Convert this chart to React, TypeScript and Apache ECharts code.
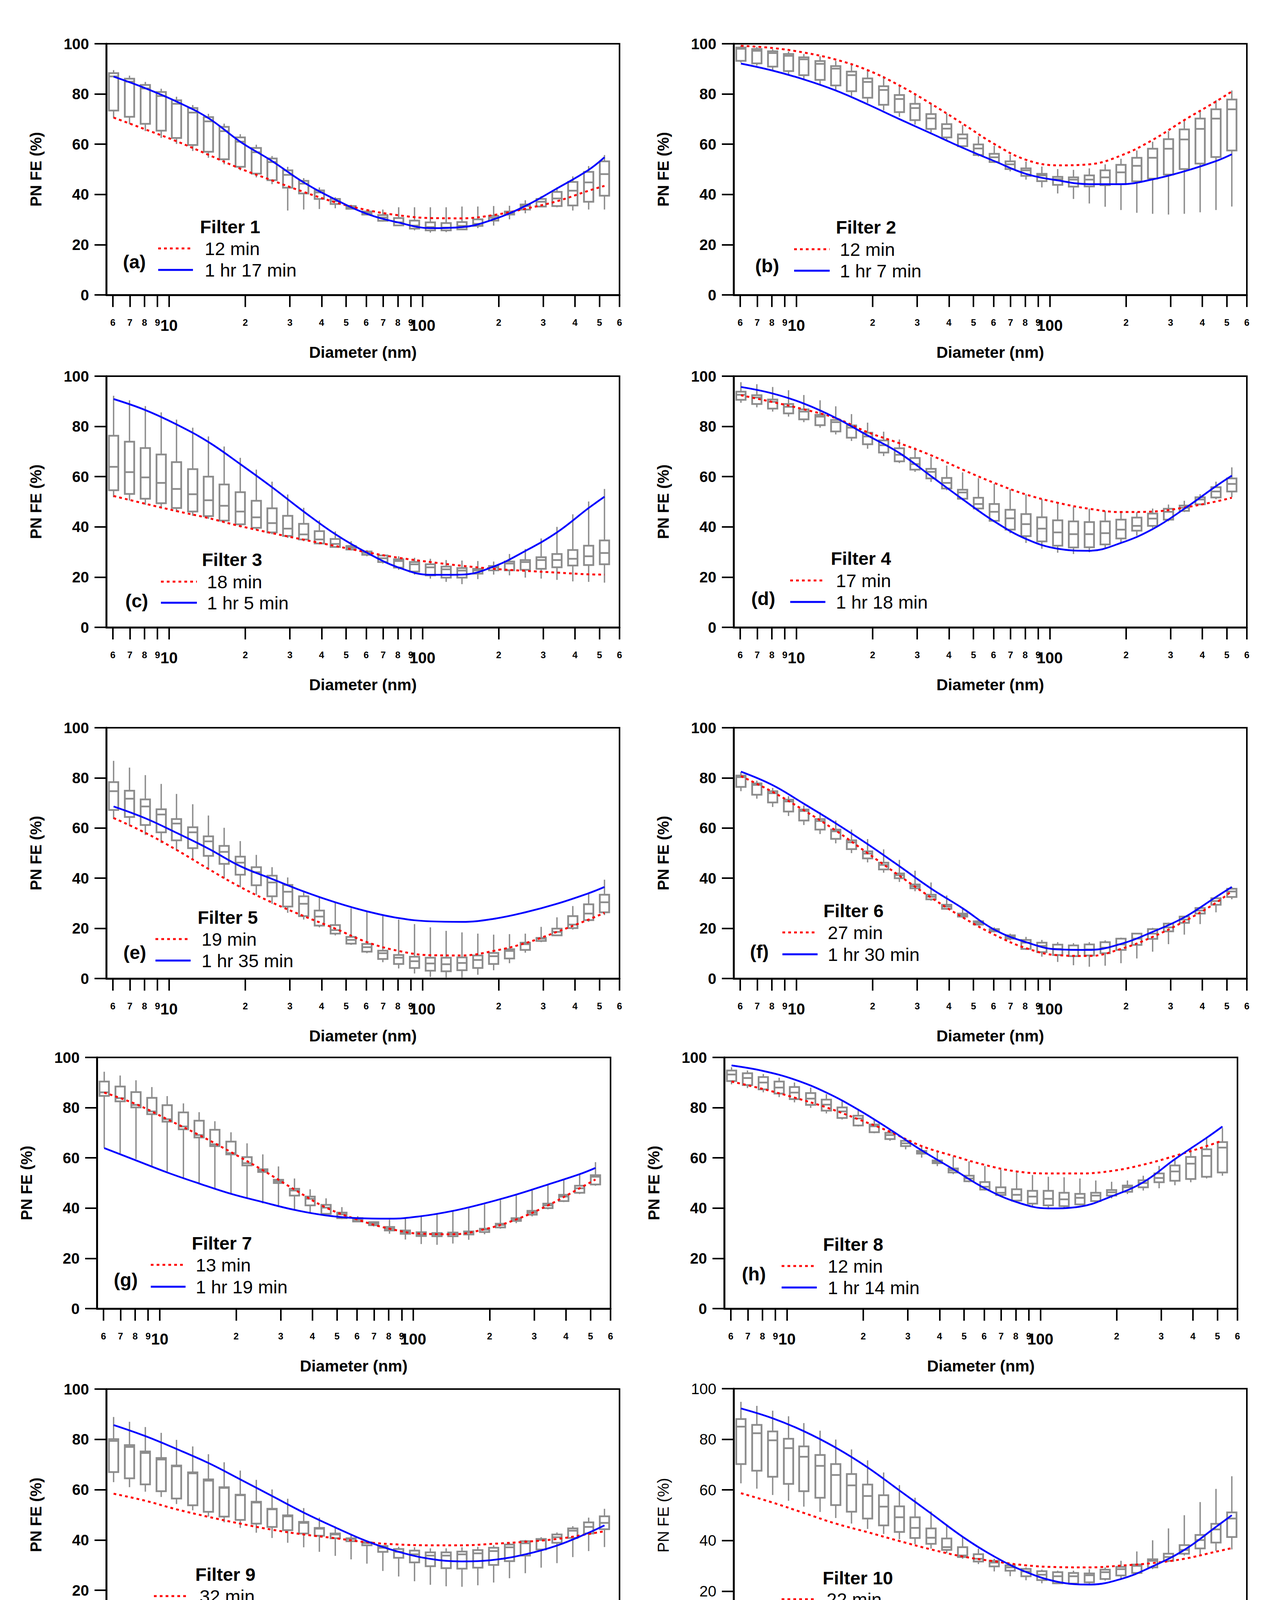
import React, { useEffect, useRef } from 'react';
import * as echarts from 'echarts';

const FONT = "'Liberation Sans', Arial, Helvetica, sans-serif";

// SMPS channel midpoints (nm)
const diameters = [6.04, 6.98, 8.06, 9.31, 10.7, 12.4, 14.3, 16.5, 19.1, 22.1, 25.5, 29.4, 34.0, 39.2, 45.3, 52.3, 60.4, 69.8, 80.6, 93.1, 107.5, 124.1, 143.3, 165.5, 191.1, 220.7, 254.8, 294.3, 339.8, 392.4, 453.2, 523.3];
// diameters at which the fitted curves were read
const lineDiameters = [6.04, 8.06, 10.7, 14.3, 19.1, 25.5, 34.0, 45.3, 60.4, 80.6, 107.5, 143.3, 191.1, 254.8, 339.8, 453.2, 523.3];

const xTickValues = [6, 7, 8, 9, 10, 20, 30, 40, 50, 60, 70, 80, 90, 100, 200, 300, 400, 500, 600];
const xTickLabels = ['6', '7', '8', '9', '10', '2', '3', '4', '5', '6', '7', '8', '9', '100', '2', '3', '4', '5', '6'];
const xMajorLabels = ['10', '100'];

const panelLetters = ['(a)', '(b)', '(c)', '(d)', '(e)', '(f)', '(g)', '(h)', '(i)', '(j)', '(k)'];
const filterNames = ['Filter 1', 'Filter 2', 'Filter 3', 'Filter 4', 'Filter 5', 'Filter 6', 'Filter 7', 'Filter 8', 'Filter 9', 'Filter 10', 'Filter 11'];
const earlyNames = ['12 min', '12 min', '18 min', '17 min', '19 min', '27 min', '13 min', '12 min', '32 min', '22 min', '18 min'];
const lateNames = ['1 hr 17 min', '1 hr 7 min', '1 hr 5 min', '1 hr 18 min', '1 hr 35 min', '1 hr 30 min', '1 hr 19 min', '1 hr 14 min', '1 hr 34 min', '1 hr 29 min', '1 hr 14 min'];

// box statistics per channel: [min, Q1, median, Q3, max] (PN FE %)
const boxes1 = [[70.5,73.4,87,88.3,89.5],[68,70.9,84.9,86.1,87.3],[65.2,68.1,82.2,83.6,84.8],[62.5,65.4,79.2,80.8,82.1],[60.1,62.5,76.1,77.5,78.9],[57.3,59.7,72.6,74.4,75.6],[54.6,57,69.1,70.8,72.1],[52,54,65.2,66.9,68.2],[49.6,51,61,62.7,64],[46.8,48.3,56.8,58.5,59.8],[44.1,45.7,52.9,54.3,55.3],[33.6,42.7,47.8,49.6,51],[34,40.4,44.3,45.4,46.5],[34.2,38.2,40.8,41.6,42.8],[34.5,36.2,37.3,38.2,38.9],[34,34.3,34.8,35.4,35.9],[31.7,32,32.7,33.2,33.6],[29.2,29.5,30.8,31.8,34],[27.5,27.7,28.9,30.6,34.9],[25.7,26.4,27.6,29.6,34.9],[24.8,25.7,27,28.9,34.9],[25,25.7,26.8,28.6,34.9],[25.9,26.1,27.5,29,35.2],[26.6,27.5,28.3,30.1,35.2],[27.6,29.6,30.7,31.5,35.4],[30.1,32,32.5,33.2,35.5],[32.5,34,35.4,36,37.7],[34.9,35.2,37.1,38.2,39.3],[34.9,35.4,38.4,41,42.8],[33.6,35.6,41.5,45,47.2],[34,37.1,44.8,49,51.3],[34,39.5,48.1,53.2,55.7]];
const boxes2 = [[92.5,93.2,98,98.5,99.4],[91.3,92.2,97.2,97.9,98.7],[89.6,90.9,96.3,97,97.8],[87.8,89.1,95.2,95.9,96.9],[85.8,87.5,93.8,94.6,95.9],[83.6,85.6,92,93.1,95],[81.7,83.4,90.1,91.1,93.2],[79.2,81.1,87.5,88.9,91.7],[76.4,78.5,84.8,86.2,89.3],[73.5,75.7,81.6,83.1,87.1],[70.9,72.8,78,79.6,83.4],[67.8,69.6,74.4,76.1,79.9],[64.7,66.1,70.3,72,76.1],[61.5,62.7,66.2,68,72.2],[58.3,59.2,62.3,63.9,67.6],[55.1,55.7,58.3,59.9,63.2],[52.5,52.9,54.8,56.2,59.4],[49.2,50.1,52,53.2,55.8],[45.9,47.4,49.6,50.4,53.1],[42.8,45.3,47.6,48.2,51.1],[40.4,43.8,46.1,47,50.1],[38.2,43.1,45.9,46.8,49.8],[36.4,43.2,45.9,47.6,50.4],[35.1,43.7,46.8,49.6,52],[33.8,44.1,48.8,51.8,54.2],[32.7,45.2,51.4,54.6,57.5],[32.3,46.3,54.6,58.2,61],[32,47.9,58.2,62,65.2],[32.3,50.1,61.9,65.9,69.6],[32.9,52.3,66.1,70.2,73.5],[33.8,54.9,70.2,73.9,77.5],[35.2,57.5,73.9,77.8,81.4]];
const boxes3 = [[51.8,54.6,63.9,76.3,92.2],[50.5,53.1,61.8,73.9,90.4],[48.8,51.2,59.7,71.4,88.1],[47.3,49.4,57.5,68.8,85.6],[45.9,47.5,55.1,65.8,82.7],[44.4,46.1,53,63,79.5],[43.2,44.3,50.6,60,76],[41.5,42.5,48.4,56.9,72],[39.8,41,46.1,53.8,67.5],[38.7,39.6,43.8,50.4,62.8],[37.1,37.8,41.5,47.4,58],[35.6,36.4,39.3,44.4,52.9],[34.3,35,37,41.2,47.6],[33,33.4,35,38.3,42.6],[31.7,32,33.2,35.2,38.2],[30.6,31,31.7,32.4,34.3],[28.3,28.9,29.7,30.2,30.8],[25.4,26,27.5,28.6,29],[22.9,23.8,26.4,27.1,28.3],[21,22.2,25.1,26,27.7],[19.4,20.7,23.9,25.1,27.3],[18.1,19.8,23.1,24.2,26.8],[17.2,19.8,22.6,23.6,26.6],[19.2,21.4,22.7,23.3,26.4],[21,22.7,23.8,24.4,26.2],[20.7,22.7,25.4,26.2,29.2],[19.8,22.9,26,26.8,31.2],[19.4,23.3,26.8,27.9,35.4],[18.9,23.9,26.8,29.2,40],[18.3,24.6,27.3,30.8,45],[18.1,24.8,28.3,32.5,50.1],[17.8,25.1,29.6,34.6,55.1]];
const boxes4 = [[89.4,90.6,92.6,93.8,97.6],[87.6,88.9,91.5,92.4,96.8],[85.9,87.1,89.8,90.7,95.7],[83.9,85.2,87.8,88.9,94.4],[81.7,82.8,85.9,86.8,92.5],[79.5,80.5,83.9,84.6,90.4],[76.8,78,81.7,82.6,88],[74.2,75.5,79.5,80.4,84.9],[71.1,72.9,76,77.5,81.5],[68.2,69.6,72.5,74.4,77.9],[65.4,66.1,68.7,71.3,74.8],[61.9,62.8,65,67.4,71.6],[57.9,59.3,61.9,63.1,67.8],[54.6,55.3,57.5,59.5,64.4],[50.6,51.2,53.7,54.8,61.7],[46.8,47.3,49.1,51.6,59.4],[41.8,42.4,46,49.1,57.1],[37.5,38.9,43.4,46.8,54.9],[33.6,36.3,41.1,45.1,52.9],[31.3,34.2,39.3,43.8,51],[29.7,32.5,37.8,42.6,49.4],[29.2,31.8,37.1,42.2,47.9],[29.9,31.9,37.1,41.9,47.2],[31.5,33,37.5,42.2,46.3],[33.6,35.4,38.9,42.9,45.7],[36.5,38.5,40.4,43.7,45.9],[39.6,40.4,43.3,45.3,47.3],[42.2,42.9,46,47.2,48.9],[45.9,46.4,47.6,48.5,50.4],[48.6,49,50.9,51.8,53],[51,51.7,54.1,55.8,58],[51.8,54.1,57.1,59.3,63.7]];
const boxes5 = [[63.6,67.2,74.7,78.3,86.8],[60.8,64.4,71.7,74.9,84.1],[57.2,61.2,68.6,71.4,81.1],[54,58.3,65.4,67.5,77.6],[50.9,55.1,61.8,63.6,73.6],[47.3,52,58.3,60.3,69.5],[43.5,48.9,54.7,56.7,65],[39.9,45.7,50.5,52.9,60.1],[36.4,41.4,46.2,48.6,54.8],[33.4,37.2,42.4,44.4,49.3],[29.8,32.8,38.3,41,44.4],[26.2,28.7,34.6,37.3,40.3],[23.5,24.9,29.8,32.8,34.9],[20.4,21.1,24.7,27.1,32.7],[17.2,17.9,19.3,21.3,30.4],[13.4,13.9,15.4,16.6,28],[10.1,10.7,12.5,13.8,26.5],[6.5,7.8,10.1,11.1,24.9],[4,5.8,8.3,9.4,23.5],[2,4.2,6.9,8.7,21.7],[0.6,3.1,6,8.3,20.4],[0.2,2.9,5.7,8.3,19],[0.4,3.3,6.2,8.4,18.4],[1.5,4.2,7.4,9.2,17.9],[3.3,5.8,8.9,10.2,17.5],[6.1,8,11,11.7,17.7],[10.3,11.4,13.7,14.3,17.9],[14.5,15,15.9,16.2,20.6],[17,17.2,18.6,19.9,24.4],[19.5,20.1,21.5,24.9,28.9],[22.6,23.3,25.9,29.6,33.7],[25.3,26.4,30.4,33.4,39.4]];
const boxes6 = [[74.7,76.4,80.3,80.9,82.3],[71.7,73.3,77.2,77.8,78.9],[68.4,70.2,73.9,74.7,76],[64.8,66.6,70.6,71.3,72.7],[61.2,63,66.8,67.4,69],[57.6,59.4,62.8,63.6,66.3],[53.9,55.7,58.7,59.4,63],[50,51.6,54.3,55.1,59.4],[46.3,47.9,49.8,50.7,55.6],[42.2,43.5,45.3,46.2,51.5],[38.5,40,41.2,41.9,47.3],[34.8,36,36.8,37.5,43],[31,31.6,32.6,33.4,38.3],[27.4,27.8,28.7,29.4,33.1],[24.2,24.7,25.3,25.9,28],[21.3,21.5,22.2,22.8,23.2],[18.4,18.8,19.3,19.7,20.4],[15.2,15.9,16.6,17.2,17.9],[11.4,11.8,14.3,15.4,16.6],[8.7,10.5,13,14.3,15.4],[6.6,9.4,11.8,13.5,14.5],[5.3,8.9,11.4,13.2,14.1],[4.7,9.2,11.6,13.6,14.5],[5.1,10.1,12.3,14.5,15.2],[6.1,11.4,13.6,15.9,16.3],[8,13.4,15.9,17.9,18.1],[10.7,15.8,17.9,19.7,20.2],[13.7,18.8,20.4,21.9,22.3],[17.5,22.2,23.5,24.7,25],[21.7,25.9,27.1,28.1,28.4],[26.4,29.4,30.9,32,32.3],[31.6,32.5,34.7,35.8,36.5]];
const boxes7 = [[63.9,84.7,86.1,90.4,94.3],[61.8,82.5,83.8,88.4,92.8],[59.5,80.1,81.1,86.2,90.9],[56.8,77.4,78.5,83.9,88.2],[54.5,74.4,75.4,81,84.6],[52,71.4,72.5,78.1,81.7],[49.8,68.1,69.1,74.8,78.2],[47.5,64.7,65.4,71.2,74.6],[45.4,61.4,61.9,66.5,70.2],[43.7,57,57.9,60.3,65.8],[41.9,54.4,55.1,55.5,61.4],[40.4,50,50.7,51.3,56.6],[39.1,45,47,47.7,51.8],[38,41.1,43.7,44.6,47.5],[37.1,37.7,40.2,41.3,43.9],[35.6,36,37.5,38.2,40.4],[34.5,34.7,35.4,36,36.8],[32.7,33.2,33.9,34.4,34.7],[29.8,31.1,31.8,32.5,35.4],[27.5,29.8,30.5,31.1,36],[25.7,28.9,29.6,30.4,36.7],[25.4,28.8,29.5,30.1,37.5],[25.9,28.8,29.6,30.3,38.6],[27.4,29.5,30.3,30.7,39.9],[29.6,30.5,31.4,31.8,41.5],[31.8,32.3,33.3,33.8,43.2],[34,34.9,35.6,36,45.2],[36.7,37.4,38.2,38.9,47.4],[39.5,40,41.1,41.8,49.2],[42.4,42.8,44.6,45.3,51.3],[45.6,46.1,47.9,48.9,53.5],[48.9,49.4,52.5,53.1,58.3]];
const boxes8 = [[89.3,90.6,93.2,94.8,96.1],[87.8,89,91.8,93.7,94.8],[86.1,87.3,90,92.2,93.4],[84.2,85.6,88,90.4,91.9],[82.1,83.4,86,88.2,90],[79.9,81.1,83.6,85.8,88],[77.7,78.8,81.2,83.2,85.4],[75.3,75.9,78.5,80.1,82.5],[72.5,72.9,75.7,76.8,78.9],[69.8,70.2,72.6,73.3,75.4],[66.8,67.5,69.1,70,71.3],[63.4,64.7,65.8,66.8,67.4],[60.1,61.7,62.4,62.8,64.7],[56.7,57.9,58.4,59,62.5],[53.5,54.2,55.1,55.8,60.5],[50.3,50.7,51.8,52.9,58.6],[47,47.4,48.5,50.4,56.8],[44.7,45.2,46.1,48.3,55.3],[42.4,43,45.3,47.5,54.2],[40.8,41.8,44.6,46.9,53.2],[40.2,41.1,43.7,46.9,52.5],[40.2,40.8,43.5,46.1,52.3],[41.1,41.5,44.1,45.7,51.8],[42.4,42.8,45,46.1,51],[43.9,45,46.3,47.2,50.5],[45.6,46.5,48.3,49,51],[47,48.3,50,51.1,52.9],[47.9,50.3,52,53.8,56.8],[49.1,50.9,54.6,57,59.9],[50.3,51.6,57.7,60.4,63.4],[51.8,52.5,60.8,63.4,67.8],[52.9,54.2,64.1,66.3,71.9]];
const boxes9 = [[63,67,79.4,80.1,88.9],[61,64.5,77,77.7,87],[59.2,62.1,74.6,75.2,84.9],[57.1,59.4,72,72.6,82.6],[54.3,56.5,69.3,69.6,79.8],[51.8,53.8,66.5,66.9,77.2],[49.3,51.2,63.6,64.1,74.1],[47,49.3,60.7,61,70.9],[44.8,48,57.8,58,67.6],[42.9,46.5,54.9,55.2,63.9],[40.8,45.2,52.2,52.4,60.1],[38.9,43.9,49.4,49.8,56.4],[37.1,42.6,46.8,47.2,52.7],[35.3,41.7,44.5,44.8,48.9],[33.7,40.7,42.2,42.6,45.4],[32.3,39.5,40.4,40.7,42],[30.6,37.9,38.8,39.1,39.8],[27.7,35.3,36.9,37.6,37.9],[25.5,32.9,35.3,36.4,37.3],[23.6,31.1,34.3,35.8,37.1],[22.2,29.6,33.8,35.1,36.7],[21.6,28.8,33.8,35.1,36.7],[21.4,28.6,34.3,35.4,37.1],[22,29,34.7,36,37.3],[23.1,30.1,35.6,36.9,37.9],[24.8,31.6,37.1,38.2,38.9],[26.8,33.8,38.7,39.5,40],[29,36.2,40,40.4,41.1],[30.8,38.9,41.1,42.2,43],[33.2,40.8,43.7,44.6,45.5],[35.6,42.6,45.2,47,48.9],[37.2,44.3,46.8,49.4,52.4]];
const boxes10 = [[62.6,70.2,85,88,94.8],[60.5,67.6,82.4,85.7,93.2],[58,65.2,79.6,83.1,91.3],[55.7,62.4,76.5,80.2,89.1],[53.4,59.5,73.1,77.2,86.4],[51.3,56.9,69.5,73.8,83.4],[48.9,54,65.9,70.2,79.9],[46.7,51.4,61.8,66.3,76],[44.6,48.7,57.6,62.1,71.7],[42.6,46,53.4,57.9,66.9],[40.5,43.4,49.2,53.5,61.9],[38.5,41,45,49.2,56.9],[36.8,38.7,41.1,44.8,51.5],[35,36.3,37.4,40.8,46.3],[32.8,33.5,34.1,37.4,41.5],[30.7,31.7,32.8,34.6,36.8],[27.8,29.8,31.3,32,32.8],[25.9,28.1,29.4,30.2,30.9],[24.3,25.9,27.8,28.8,29.4],[23.1,24.4,26.5,27.9,28.5],[22.9,23.1,25.9,27.5,28.1],[22.6,23,25.9,27.2,28.1],[22.9,23.5,26.3,27,28.7],[24.2,24.8,27.5,28.5,29.4],[25,26.2,28.7,29.6,32],[26.8,27.2,30,30.5,35.7],[28.7,29.4,32,32.6,40.1],[31.5,32,33.5,34.8,44.8],[34.1,34.8,36.3,38.2,50],[34.5,36.9,40.2,42.2,55.2],[35.9,39.2,44.4,46.6,60.4],[36.5,41.4,48.7,51.1,65.4]];
const boxes11 = [[67.2,71.2,77.9,78.5,80.7],[64.8,68.5,75.3,76,78.6],[62.2,65.9,72.8,73.5,76.3],[59.7,63.3,70,70.9,73.8],[57.1,60.4,67.2,68,71.3],[54.5,57.7,64.3,65,68.7],[52.1,55,61.5,62.2,65.9],[49.7,52.3,58.5,59.1,63.2],[47.3,49.5,55.3,56,60.4],[45,46.9,52.1,52.8,57.3],[42.8,44.4,49.5,50.1,54.5],[40.7,42.1,46.7,47.5,51.7],[39,39.9,43.8,44.8,48.6],[37.4,37.9,41.4,42.2,44.5],[35.8,36.1,38.7,40,41.2],[34.2,34.4,36.1,36.8,38.5],[32.9,33.3,33.7,34.2,37],[31.6,31.8,32.4,32.9,35.9],[30.7,30.9,31.6,32.3,34.4],[29.6,30,31.4,32.3,32.6],[29.1,29.6,31.1,32.2,32.4],[28.9,29.4,30.7,31.9,32.3],[28.9,29.2,31.1,32.2,32.6],[28.9,29.4,31.6,32.9,33.5],[30.1,30.5,32.6,33.7,34.2],[32,32.4,34,35.1,36.1],[33.7,33.9,35.8,36.6,37.7],[35.7,35.9,37.7,38.4,39.4],[37.7,38.2,39.9,40.6,43.6],[40.3,40.6,42.1,42.9,46.4],[42.7,42.9,44.5,45.4,49],[44.5,45.5,47,48.2,51.5]];

// fitted curves at lineDiameters: early (red dotted) and late (blue solid)
const early1 = [70.6,65.9,61.2,55.8,50.3,45.6,41,36.9,33.8,31.7,30.6,30.5,31.8,34.3,37.3,41.5,43.4];
const late1 = [86.9,82.3,77,70.4,61,53.3,44.8,38,32.3,28.8,26.6,27,30.1,35.4,42.4,49.8,54.8];
const early2 = [99.2,98.3,96.5,93.7,89.5,83.4,76.1,68.2,60.1,53.8,51.6,52,55.5,61.7,69.6,77,81];
const late2 = [92.1,89.3,85.8,81.4,75.9,70,64.3,58.6,53.3,48.2,45.6,44.1,44.1,46,49.2,53.3,56];
const early3 = [52.3,49.2,46.3,43.5,40.3,37.5,34.9,32.4,29.9,27.7,26,24.5,23.3,22.5,21.8,21.1,21];
const late3 = [90.9,86.5,80.8,73.8,65,55.8,46.1,37.1,29.7,23.8,20.9,21,24.2,30.4,37.8,47.5,52];
const early4 = [92.4,89.7,86.8,83.3,77.7,73.3,68.5,62.8,57.5,52.9,49.6,47.2,45.9,46.1,47.7,50.1,51.6];
const late4 = [95.7,93.1,89.1,83.4,76.4,69.4,60.2,51,42.2,35.2,31.3,30.5,33.6,39.1,47.2,56.2,60.4];
const early5 = [64,58.1,51.3,43.7,36.5,30.3,24.9,19.9,14.5,11,9.3,9.2,11,14.1,18.6,23.5,26.2];
const late5 = [68.6,63.9,58.1,51.8,44.8,39.7,34.7,30.4,26.8,24.1,22.8,22.6,23.8,26.4,29.8,34,36.5];
const early6 = [80.7,74.4,67.1,59,50,41,32.3,24.4,17.5,12.1,9.3,9,11.8,16.6,22.8,30.2,34.9];
const late6 = [82.5,77.1,69.7,61.9,53.6,44.8,35.9,28,19.5,14.5,11.6,11.4,13.8,18.6,24.4,32.5,36.5];
const early7 = [86,81.4,75.4,69.1,62.3,55.1,47.4,40.2,35.4,31.8,29.8,29.6,31.6,35.5,41.1,47.9,51.4];
const late7 = [63.9,59,54.2,49.8,45.7,42.4,39.3,37.1,36,35.8,36.8,38.9,41.9,45.4,49.4,53.5,56];
const early8 = [90.4,87.4,84,80.1,75.4,70.4,64.7,60.8,57.2,54.6,53.8,53.8,54.8,57.3,60.8,64.7,66.9];
const late8 = [96.8,94.6,91.2,86,79.2,71.3,63,55.5,47.9,42.4,39.9,40.6,44.7,50.3,59.5,68,72.5];
const early9 = [58.4,55.6,52.2,49.2,46.5,44.1,42.2,40.7,39.1,38.2,37.9,37.9,38.5,39.3,40.4,42.4,43.5];
const late9 = [85.7,81.3,76.2,70.6,64.1,57.5,50.9,45,39.5,35.3,32.5,31.5,32.1,34.3,37.8,42.9,45.8];
const early10 = [58.7,55,50.9,46.7,43.3,39.8,36.5,33.7,31.8,30.2,29.5,29.4,30.1,31.1,32.8,35.6,37];
const late10 = [92.2,88.3,83.2,76.7,68.9,59.8,50.7,41.5,33.7,27.6,23.7,22.6,24.8,29.8,36.3,45.4,50];
const early11 = [77.6,72.4,67.3,61.9,55.6,50.1,44.5,39.4,36.4,34.6,34.2,34.6,36.4,39,42.5,48.2,51.5];
const late11 = [77.9,72.6,67.6,61.7,54.5,48.6,42.9,37.4,33.7,31.1,29.8,29.6,31.6,34.4,39,43.6,46];

const boxSets = [boxes1, boxes2, boxes3, boxes4, boxes5, boxes6, boxes7, boxes8, boxes9, boxes10, boxes11];
const earlySets = [early1, early2, early3, early4, early5, early6, early7, early8, early9, early10, early11];
const lateSets = [late1, late2, late3, late4, late5, late6, late7, late8, late9, late10, late11];

// layout (pixels): grid box + legend offsets relative to grid
// lg: [filterX, filterY, lineX1, lineX2, redY, blueY, textX, letterX, letterY]
const panelLayouts = [
  { left: 272, top: 112, width: 1314, height: 643, bold: true, lg: [240, 468, 133, 222, 524, 579, 252, 72, 558] },
  { left: 1878, top: 112, width: 1314, height: 643, bold: true, lg: [262, 469, 155, 246, 526, 581, 272, 86, 568] },
  { left: 272, top: 963, width: 1314, height: 643, bold: true, lg: [245, 469, 140, 232, 526, 580, 258, 78, 575] },
  { left: 1878, top: 963, width: 1314, height: 643, bold: true, lg: [249, 466, 145, 235, 523, 578, 262, 76, 569] },
  { left: 272, top: 1863, width: 1314, height: 642, bold: true, lg: [234, 485, 126, 216, 541, 596, 244, 73, 575] },
  { left: 1878, top: 1863, width: 1314, height: 642, bold: true, lg: [230, 468, 125, 215, 524, 580, 241, 66, 573] },
  { left: 248, top: 2707, width: 1315, height: 643, bold: true, lg: [243, 475, 138, 227, 531, 587, 253, 74, 569] },
  { left: 1854, top: 2707, width: 1314, height: 643, bold: true, lg: [253, 478, 147, 237, 534, 589, 265, 76, 554] },
  { left: 272, top: 3556, width: 1314, height: 644, bold: true, lg: [228, 474, 122, 212, 530, 585, 239, 65, 571] },
  { left: 1878, top: 3555, width: 1314, height: 648, bold: false, lg: [228, 484, 123, 212, 539, 595, 238, 65, 570] },
  { left: 272, top: 4404, width: 1314, height: 650, bold: false, lg: [234, 484, 128, 216, 540, 596, 244, 66, 579] },
];

const RED = '#ff0000';
const BLUE = '#0000ff';
const GRAY = '#8c8c8c';

function tickLabel(v: number): string {
  const idx = xTickValues.findIndex((t) => Math.abs(t - v) / t < 1e-6);
  if (idx < 0) return '';
  const lab = xTickLabels[idx];
  return xMajorLabels.indexOf(lab) >= 0 ? `{big|${lab}}` : `{small|${lab}}`;
}

function buildOption() {
  const grid: any[] = [];
  const xAxis: any[] = [];
  const yAxis: any[] = [];
  const series: any[] = [];
  const graphic: any[] = [];

  panelLayouts.forEach((p, k) => {
    const fw = p.bold ? 'bold' : 'normal';
    grid.push({
      left: p.left, top: p.top, width: p.width, height: p.height,
      show: true, borderColor: '#000', borderWidth: 4, backgroundColor: 'transparent',
    });
    xAxis.push({
      type: 'log', logBase: 10, gridIndex: k, min: 5.65, max: 600,
      axisLine: { show: true, lineStyle: { color: '#000', width: 5 } },
      axisTick: { show: true, customValues: xTickValues, length: 31, inside: false, lineStyle: { color: '#000', width: 4 } },
      minorTick: { show: false },
      splitLine: { show: false },
      axisLabel: {
        customValues: xTickValues, margin: 58, color: '#000',
        formatter: (v: number) => tickLabel(v),
        rich: {
          small: { fontSize: 24, fontWeight: fw, fontFamily: FONT, color: '#000' },
          big: { fontSize: 40, fontWeight: fw, fontFamily: FONT, color: '#000' },
        },
      },
      name: 'Diameter (nm)', nameLocation: 'middle', nameGap: 126,
      nameTextStyle: { fontSize: 41, fontWeight: fw, fontFamily: FONT, color: '#000' },
    });
    yAxis.push({
      type: 'value', gridIndex: k, min: 0, max: 100, interval: 20,
      axisLine: { show: true, lineStyle: { color: '#000', width: 5 } },
      axisTick: { show: true, length: 30, lineStyle: { color: '#000', width: 4 } },
      splitLine: { show: false },
      axisLabel: { fontSize: 39, fontWeight: fw, fontFamily: FONT, color: '#000', margin: 44 },
      name: 'PN FE (%)', nameLocation: 'middle', nameGap: 160,
      nameTextStyle: { fontSize: 40, fontWeight: fw, fontFamily: FONT, color: '#000' },
    });

    const boxes = boxSets[k];
    series.push({
      type: 'custom', xAxisIndex: k, yAxisIndex: k, silent: true, z: 2,
      data: boxes.map((b, i) => [diameters[i], b[0], b[1], b[2], b[3], b[4]]),
      encode: { x: 0, y: [1, 2, 3, 4, 5] },
      renderItem: (params: any, api: any) => {
        const x = api.value(0);
        const pMin = api.coord([x, api.value(1)]);
        const pQ1 = api.coord([x, api.value(2)]);
        const pMed = api.coord([x, api.value(3)]);
        const pQ3 = api.coord([x, api.value(4)]);
        const pMax = api.coord([x, api.value(5)]);
        const cx = pMin[0];
        const hw = 12;
        return {
          type: 'group',
          children: [
            { type: 'line', shape: { x1: cx, y1: pMax[1], x2: cx, y2: pQ3[1] }, style: { stroke: GRAY, lineWidth: 3.5 } },
            { type: 'line', shape: { x1: cx, y1: pQ1[1], x2: cx, y2: pMin[1] }, style: { stroke: GRAY, lineWidth: 3.5 } },
            { type: 'rect', shape: { x: cx - hw, y: pQ3[1], width: hw * 2, height: Math.max(pQ1[1] - pQ3[1], 1) }, style: { fill: 'none', stroke: GRAY, lineWidth: 4.5 } },
            { type: 'line', shape: { x1: cx - hw, y1: pMed[1], x2: cx + hw, y2: pMed[1] }, style: { stroke: GRAY, lineWidth: 4.5 } },
          ],
        };
      },
    });
    series.push({
      type: 'line', name: earlyNames[k], xAxisIndex: k, yAxisIndex: k, z: 3, silent: true,
      data: lineDiameters.map((d, i) => [d, earlySets[k][i]]),
      smooth: 0.4, symbol: 'none',
      lineStyle: { color: RED, width: 5, type: [7, 8] },
    });
    series.push({
      type: 'line', name: lateNames[k], xAxisIndex: k, yAxisIndex: k, z: 4, silent: true,
      data: lineDiameters.map((d, i) => [d, lateSets[k][i]]),
      smooth: 0.4, symbol: 'none',
      lineStyle: { color: BLUE, width: 4.5, type: 'solid' },
    });

    const [fx, fy, lx1, lx2, ry, by, tx, ax, ay] = p.lg;
    const L = p.left, T = p.top;
    const textBase = { fontFamily: FONT, fill: '#000', align: 'left', verticalAlign: 'middle', textAlign: 'left', textVerticalAlign: 'middle' };
    graphic.push(
      { type: 'text', x: L + fx, y: T + fy, silent: true, style: { ...textBase, text: filterNames[k], fontSize: 47, fontWeight: 'bold' } },
      { type: 'line', silent: true, shape: { x1: L + lx1, y1: T + ry, x2: L + lx2, y2: T + ry }, style: { stroke: RED, lineWidth: 5, lineDash: [7, 8] } },
      { type: 'text', x: L + tx, y: T + ry, silent: true, style: { ...textBase, text: earlyNames[k], fontSize: 47, fontWeight: 'normal' } },
      { type: 'line', silent: true, shape: { x1: L + lx1, y1: T + by, x2: L + lx2, y2: T + by }, style: { stroke: BLUE, lineWidth: 5 } },
      { type: 'text', x: L + tx, y: T + by, silent: true, style: { ...textBase, text: lateNames[k], fontSize: 47, fontWeight: 'normal' } },
      { type: 'text', x: L + ax, y: T + ay, silent: true, style: { ...textBase, text: panelLetters[k], fontSize: 48, fontWeight: 'bold', align: 'center', textAlign: 'center' } },
    );
  });

  return {
    animation: false,
    backgroundColor: '#ffffff',
    textStyle: { fontFamily: FONT },
    grid, xAxis, yAxis, series, graphic,
  };
}

export default function App() {
  const ref = useRef<HTMLDivElement>(null);
  useEffect(() => {
    if (!ref.current) return;
    const chart = echarts.init(ref.current, null, { renderer: 'svg', width: 3241, height: 5247 });
    chart.setOption(buildOption() as any);
    return () => chart.dispose();
  }, []);
  return (
    <div
      ref={ref}
      style={{ position: 'absolute', left: 0, top: 0, width: 3241, height: 5247, background: '#fff' }}
    />
  );
}
